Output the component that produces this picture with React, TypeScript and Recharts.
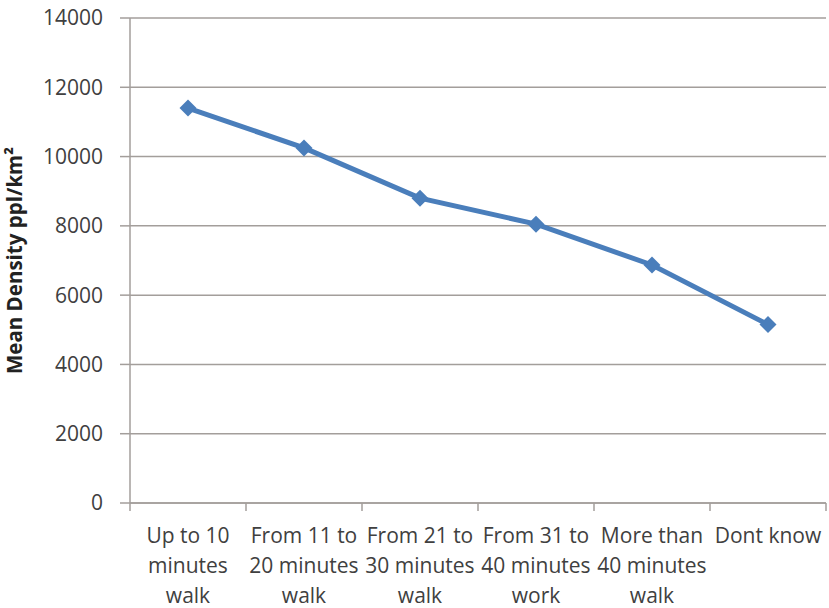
import { CartesianGrid, Line, LineChart, XAxis, YAxis } from "recharts";

const CATEGORIES = [
  "Up to 10\nminutes\nwalk",
  "From 11 to\n20 minutes\nwalk",
  "From 21 to\n30 minutes\nwalk",
  "From 31 to\n40 minutes\nwork",
  "More than\n40 minutes\nwalk",
  "Dont know",
];
const MEAN_DENSITY = [11400, 10250, 8800, 8050, 6870, 5150];
const Y_TICKS = [0, 2000, 4000, 6000, 8000, 10000, 12000, 14000];

const data = CATEGORIES.map((label, i) => ({ label, value: MEAN_DENSITY[i] }));

const FONT = "'Open Sans', sans-serif";
const TEXT_COLOR = "#404040";
const GRID_COLOR = "#a39e9b";
const LINE_COLOR = "#4a7ebb";
const BAND = 116;

// x is the band centre; tick marks sit on the band edges like Excel
function CategoryTick(props: any) {
  const { x, y, payload, index } = props;
  const lines = String(payload.value).split("\n");
  const last = index === CATEGORIES.length - 1;
  const top = y - 8;
  return (
    <g>
      <line x1={x - BAND / 2} x2={x - BAND / 2} y1={top} y2={top + 8} stroke={GRID_COLOR} strokeWidth={1.5} />
      {last ? <line x1={x + BAND / 2} x2={x + BAND / 2} y1={top} y2={top + 8} stroke={GRID_COLOR} strokeWidth={1.5} /> : null}
      {lines.map((line, i) => (
        <text key={i} x={x} y={top + 40 + i * 30} textAnchor="middle" fontFamily={FONT} fontSize={21} fill={TEXT_COLOR}>
          {line}
        </text>
      ))}
    </g>
  );
}

function Diamond(props: any) {
  const { cx, cy } = props;
  if (cx == null || cy == null) return <g />;
  const r = 8.5;
  return <polygon points={`${cx},${cy - r} ${cx + r},${cy} ${cx},${cy + r} ${cx - r},${cy}`} fill={LINE_COLOR} />;
}

export default function App() {
  return (
    <div style={{ position: "absolute", left: 0, top: 0, width: 829, height: 608, background: "#fff" }}>
      <LineChart width={829} height={608} data={data} margin={{ top: 18, right: 3, bottom: 0, left: 0 }}>
        <CartesianGrid vertical={false} stroke={GRID_COLOR} strokeWidth={1.5} />
        <XAxis
          dataKey="label"
          scale="band"
          interval={0}
          height={105}
          tickLine={false}
          axisLine={{ stroke: GRID_COLOR, strokeWidth: 1.5 }}
          tick={<CategoryTick />}
        />
        <YAxis
          width={130}
          domain={[0, 14000]}
          ticks={Y_TICKS}
          interval={0}
          tickSize={10}
          tickMargin={17}
          axisLine={{ stroke: GRID_COLOR, strokeWidth: 1.5 }}
          tickLine={{ stroke: GRID_COLOR, strokeWidth: 1.5 }}
          tick={{ fontFamily: FONT, fontSize: 21, fill: TEXT_COLOR }}
          label={{
            value: "Mean Density ppl/km²",
            angle: -90,
            position: "insideLeft",
            dx: 10,
            style: { textAnchor: "middle", fontFamily: FONT, fontSize: 20.5, fontWeight: 700, fill: "#222" },
          }}
        />
        <Line
          dataKey="value"
          stroke={LINE_COLOR}
          strokeWidth={5}
          dot={<Diamond />}
          activeDot={false}
          isAnimationActive={false}
        />
      </LineChart>
    </div>
  );
}
